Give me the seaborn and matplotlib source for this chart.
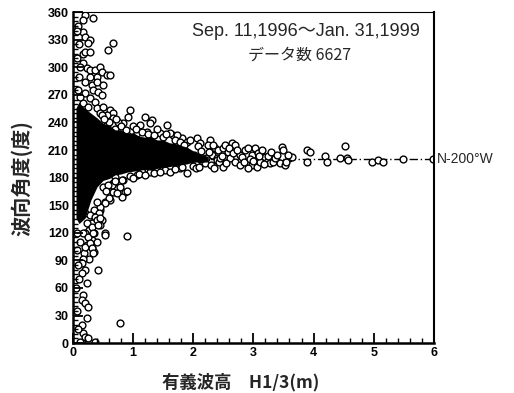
import numpy as np
import pandas as pd
import matplotlib
matplotlib.use('Agg')
import matplotlib.pyplot as plt
from matplotlib.ticker import MultipleLocator
import seaborn as sns

# significant wave height (m) / wave direction (deg)
wave_h = [
    # upper tail
    0.20, 0.33, 0.17, 0.17, 0.20, 0.28, 0.25, 0.17, 0.20, 0.28, 0.66, 0.58,
    0.17, 0.23, 0.28, 0.37, 0.45, 0.48, 0.56, 0.61, 0.40, 0.28,
    0.20, 0.32, 0.40, 0.50, 0.33, 0.20, 0.42, 0.48, 0.28, 0.17, 0.37, 0.25,
    0.40, 0.50, 0.61, 0.66, 0.56, 0.45,
    0.08, 0.10, 0.06, 0.10, 0.08, 0.12, 0.07, 0.12,
    # upper edge of the core
    0.95, 0.91, 1.20, 1.31, 1.11, 1.56, 1.06, 1.23, 0.90, 1.45, 1.66, 1.81,
    1.89, 0.83, 1.28, 1.61, 1.73, 0.66, 0.56, 0.48, 0.75, 0.70,
    0.72, 0.80, 0.88, 1.00, 1.05, 1.15, 1.25, 1.35, 1.40, 1.50, 1.55, 1.70,
    1.78, 1.85, 0.60, 0.52,
    # band 2-3.7 m
    1.94, 2.06, 2.11, 2.28, 2.24, 2.36, 2.41, 2.31, 2.39, 2.49, 2.57, 2.64,
    2.69, 2.61, 2.69, 2.77, 2.77, 2.86, 2.91, 2.97, 3.02, 3.07, 3.14, 3.19,
    2.97, 3.06, 2.91, 3.11, 3.22, 3.27, 3.32, 3.47, 3.49, 3.44, 3.52, 3.60,
    3.65, 3.55, 3.36,
    2.15, 2.18, 2.20, 2.22, 2.40, 2.43, 2.45, 2.00, 2.05, 2.10, 2.30, 2.50,
    2.55, 2.35,
    2.02, 2.08, 2.13, 2.26, 2.33, 2.47, 2.52, 2.59, 2.66, 2.73, 2.81, 2.84,
    2.95, 3.00, 3.10, 3.17, 3.25, 3.30, 3.40, 3.58,
    # high waves
    3.89, 3.94, 3.89, 4.19, 4.22, 4.44, 4.52, 4.55, 4.57, 4.97, 5.07, 5.15,
    5.48, 5.98,
    # lower edge of the core
    1.06, 1.15, 1.28, 1.40, 1.53, 1.61, 1.78, 1.89, 0.83, 0.66, 0.78, 0.61,
    0.86, 0.53, 0.45, 0.50, 0.66, 0.78, 0.90, 0.61, 0.81, 0.70, 0.81, 0.65,
    0.73, 0.60, 0.53, 0.45, 0.40,
    0.95, 1.00, 1.10, 1.20, 1.35, 1.45, 1.70, 1.82, 0.58, 0.55, 0.70,
    # lower tail
    0.35, 0.43, 0.37, 0.48, 0.32, 0.45, 0.27, 0.35, 0.20, 0.53, 0.90, 0.32,
    0.40, 0.23, 0.32, 0.35, 0.18, 0.27,
    0.20, 0.28, 0.37, 0.23, 0.40, 0.45, 0.32, 0.42, 0.17, 0.25, 0.33, 0.53,
    0.12, 0.20, 0.28, 0.32, 0.33, 0.07, 0.17, 0.15, 0.20, 0.15, 0.42,
    0.23, 0.17, 0.15, 0.20, 0.25, 0.23, 0.15, 0.17, 0.20, 0.25, 0.78, 0.37,
    0.12, 0.06, 0.08, 0.05, 0.10, 0.06, 0.08,
]
wave_dir = [
    357, 354, 352, 338, 333, 330, 326, 315, 317, 317, 326, 319,
    305, 299, 297, 297, 300, 295, 292, 292, 290, 290,
    284, 281, 284, 281, 275, 272, 273, 270, 267, 261, 262, 257,
    256, 257, 254, 250, 248, 250,
    345, 325, 310, 290, 275, 268, 340, 300,
    254, 246, 246, 243, 237, 237, 229, 230, 226, 229, 226, 223,
    219, 239, 239, 229, 226, 245, 237, 248, 240, 233,
    244, 236, 232, 236, 233, 230, 227, 226, 233, 224, 228, 221,
    219, 216, 240, 244,
    221, 223, 218, 221, 215, 212, 210, 205, 201, 212, 208, 218,
    215, 201, 197, 205, 194, 210, 212, 205, 212, 207, 210, 202,
    194, 192, 191, 197, 197, 196, 197, 213, 210, 196, 194, 201,
    202, 197, 201,
    198, 200, 196, 201, 199, 197, 201, 193, 190, 192, 194, 192,
    196, 190,
    205, 214, 209, 208, 216, 204, 215, 212, 207, 210, 202, 197,
    200, 198, 203, 195, 203, 208, 205, 205,
    210, 208, 197, 203, 197, 201, 214, 201, 199, 197, 199, 197,
    200, 200,
    183, 186, 186, 188, 188, 186, 190, 185, 177, 174, 166, 163,
    164, 153, 145, 170, 164, 170, 166, 156, 159, 181, 177, 172,
    163, 158, 152, 148, 153,
    182, 180, 184, 183, 185, 186, 189, 192, 172, 165, 176,
    145, 142, 134, 134, 131, 128, 123, 120, 120, 120, 116, 112,
    110, 107, 103, 99, 98, 92,
    141, 139, 137, 131, 134, 136, 126, 128, 120, 115, 120, 118,
    110, 104, 109, 103, 98, 101, 92, 87, 79, 76, 79,
    65, 52, 47, 44, 39, 27, 20, 11, 7, 5, 22, 1,
    1, 120, 85, 60, 70, 35, 15,
]

# saturated (solid black) part of the cloud: height vs lower/upper direction
core_h = [0.05, 0.1, 0.15, 0.2, 0.3, 0.4, 0.5, 0.6, 0.7, 0.8, 0.9, 1.0, 1.1, 1.2,
          1.3, 1.4, 1.5, 1.6, 1.7, 1.8, 1.9, 1.95, 2.05, 2.15, 2.25]
core_lo = [136, 130, 133, 136, 156, 170, 177, 179, 183, 184, 186, 187, 188, 189,
           188, 190, 191, 192, 193, 194, 195, 196, 197, 196, 199]
core_hi = [256, 262, 258, 255, 250, 245, 239, 237, 232, 232, 228, 229, 225, 224,
           224, 221, 221, 218, 217, 215, 213, 211, 207, 205, 203]

ref_dir = 200

sns.set_style('ticks')
plt.rcParams['font.family'] = ['Noto Sans CJK JP', 'DejaVu Sans']

df = pd.DataFrame({'h': wave_h, 'dir': wave_dir})

fig = plt.figure(figsize=(5.14, 3.93), dpi=100)
ax = fig.add_axes([0.142, 0.127, 0.702, 0.842])
ax.set_axisbelow(False)

ax.axhline(ref_dir, color='black', lw=1.0, ls=(0, (6, 2, 1, 2)), zorder=1)
sns.scatterplot(data=df, x='h', y='dir', marker='o', s=24, color='white',
                edgecolor='black', linewidth=1.0, ax=ax, zorder=2, legend=False)
ax.fill_between(core_h, core_lo, core_hi, color='black', lw=0, zorder=2.2)

ax.set_xlim(0, 6)
ax.set_ylim(0, 360)
ax.set_xticks(range(0, 7))
ax.set_yticks(range(0, 361, 30))
ax.xaxis.set_minor_locator(MultipleLocator(0.2))
ax.yaxis.set_minor_locator(MultipleLocator(5))
ax.tick_params(which='major', direction='in', length=7, width=1.3, pad=3,
               color='black', labelcolor='black')
ax.tick_params(which='minor', direction='in', length=3.5, width=1.0,
               color='black')
for lab in ax.get_xticklabels() + ax.get_yticklabels():
    lab.set_fontweight('bold')
    lab.set_fontsize(9)
    lab.set_family(['Liberation Sans', 'DejaVu Sans'])
ax.set_xlabel('')
ax.set_ylabel('')

for side in ['left', 'bottom', 'right', 'top']:
    ax.spines[side].set_color('black')
for side in ['left', 'bottom']:
    ax.spines[side].set_linewidth(1.8)
ax.spines['right'].set_linewidth(1.5)
ax.spines['top'].set_linewidth(0.8)

ax.text(0.645, 0.943, 'Sep. 11,1996～Jan. 31,1999', transform=ax.transAxes,
        ha='center', va='center', fontsize=13,
        family=['Liberation Sans', 'Noto Sans CJK JP'])
ax.text(0.629, 0.87, 'データ数 6627', transform=ax.transAxes,
        ha='center', va='center', fontsize=11.5,
        family=['Noto Sans CJK JP', 'DejaVu Sans'])
ax.text(6.05, ref_dir, 'N-200°W', ha='left', va='center', fontsize=10,
        family=['Liberation Sans', 'DejaVu Sans'], clip_on=False)

fig.text(0.043, 0.547, '波向角度(度)', rotation=90, ha='center', va='center',
         fontsize=14.5, fontweight='bold')
fig.text(0.469, 0.028, '有義波高　H1/3(m)', ha='center', va='center',
         fontsize=12.5, fontweight='bold')

fig.savefig('out.png', dpi=100)
